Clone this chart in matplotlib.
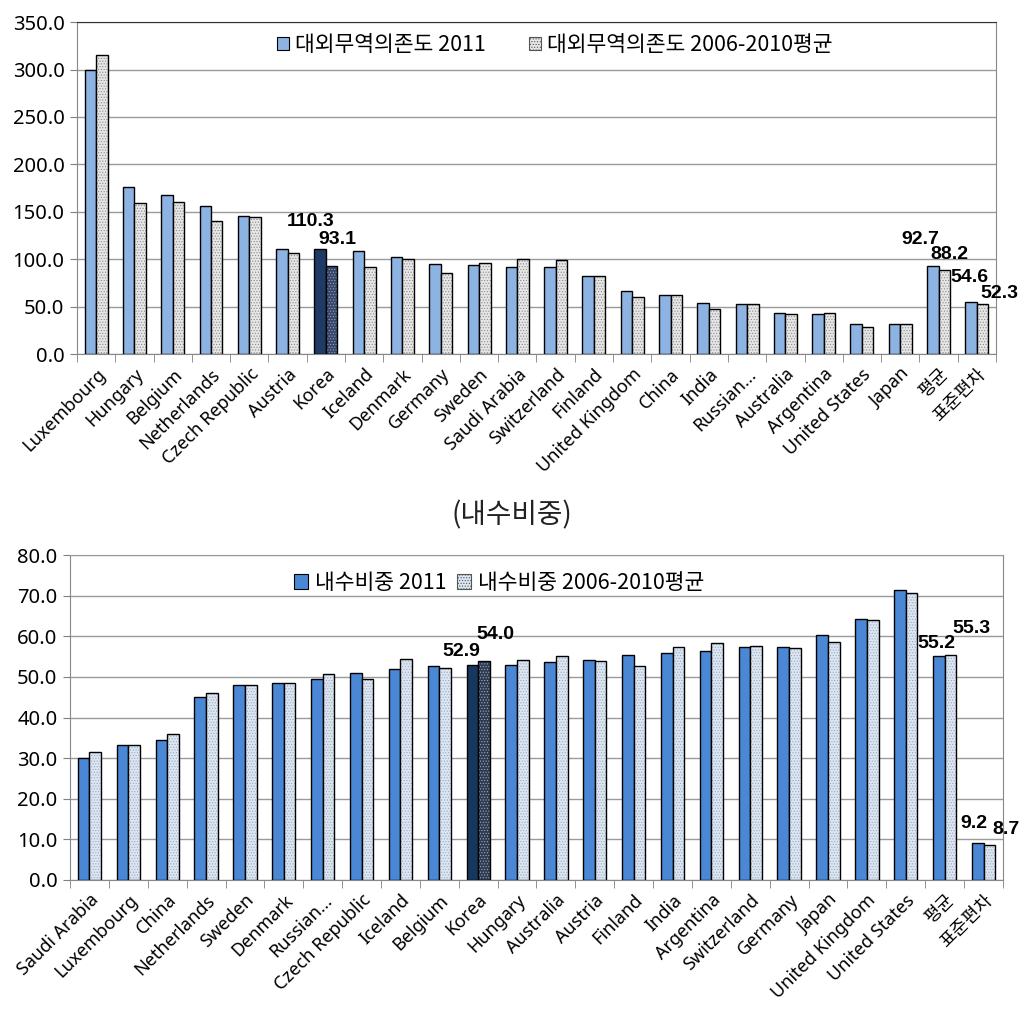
import numpy as np
import matplotlib
matplotlib.use("Agg")
import matplotlib.pyplot as plt

plt.rcParams['font.family'] = ['Noto Sans', 'Noto Sans CJK KR', 'DejaVu Sans']
plt.rcParams['hatch.linewidth'] = 0.5

# ---- 데이터 ----
# 대외무역의존도
top_cats = ['Luxembourg', 'Hungary', 'Belgium', 'Netherlands', 'Czech Republic', 'Austria',
            'Korea', 'Iceland', 'Denmark', 'Germany', 'Sweden', 'Saudi Arabia', 'Switzerland',
            'Finland', 'United Kingdom', 'China', 'India', 'Russian...', 'Australia',
            'Argentina', 'United States', 'Japan', '평균', '표준편차']
top_2011 = [300.0, 176.0, 168.0, 156.5, 145.5, 111.0, 110.3, 108.5, 102.5, 95.0, 94.0, 92.0,
            91.5, 82.6, 66.5, 62.0, 54.0, 52.7, 43.0, 41.9, 32.0, 32.0, 92.7, 54.6]
top_avg = [315.0, 159.0, 160.0, 140.5, 144.0, 107.0, 93.1, 91.5, 100.0, 85.0, 96.0, 100.0,
           98.8, 82.6, 60.4, 62.6, 47.8, 52.7, 41.9, 43.0, 29.0, 32.0, 88.2, 52.3]
top_labels = ['대외무역의존도 2011', '대외무역의존도 2006-2010평균']

# 내수비중
bot_cats = ['Saudi Arabia', 'Luxembourg', 'China', 'Netherlands', 'Sweden', 'Denmark',
            'Russian...', 'Czech Republic', 'Iceland', 'Belgium', 'Korea', 'Hungary',
            'Australia', 'Austria', 'Finland', 'India', 'Argentina', 'Switzerland', 'Germany',
            'Japan', 'United Kingdom', 'United States', '평균', '표준편차']
bot_2011 = [30.0, 33.2, 34.4, 45.0, 47.9, 48.5, 49.4, 50.9, 52.0, 52.6, 52.9, 53.0,
            53.6, 54.2, 55.4, 56.0, 56.3, 57.4, 57.4, 60.3, 64.2, 71.5, 55.2, 9.2]
bot_avg = [31.5, 33.2, 35.9, 46.1, 47.9, 48.5, 50.6, 49.4, 54.3, 52.3, 54.0, 54.2,
           55.1, 53.9, 52.7, 57.4, 58.3, 57.7, 57.2, 58.6, 63.9, 70.7, 55.3, 8.7]
bot_labels = ['내수비중 2011', '내수비중 2006-2010평균']

W = 0.3


def draw_chart(ax, cats, v1, v2, c1, c1k, f2, f2k, d2, d2k, ymax, ystep, top_spine):
    x = np.arange(len(cats))
    col1 = [c1k if c == 'Korea' else c1 for c in cats]
    col2 = [f2k if c == 'Korea' else f2 for c in cats]
    dot2 = [d2k if c == 'Korea' else d2 for c in cats]
    ax.bar(x - W / 2, v1, W, color=col1, edgecolor='black', linewidth=1.0, zorder=3)
    b2 = ax.bar(x + W / 2, v2, W, color=col2, linewidth=0, zorder=3)
    for p, dc in zip(b2, dot2):
        p.set_hatch('......')
        p.set_edgecolor(dc)
    ax.bar(x + W / 2, v2, W, fill=False, edgecolor='black', linewidth=1.0, zorder=4)

    ax.set_xlim(-0.5, len(cats) - 0.5)
    ax.set_ylim(0, ymax)
    ax.set_yticks(np.arange(0, ymax + 0.1, ystep))
    ax.set_yticklabels(['%.1f' % v for v in np.arange(0, ymax + 0.1, ystep)], fontsize=14.5)
    ax.yaxis.grid(True, color='#9a9a9a', linewidth=1.0, zorder=0)
    ax.set_axisbelow(True)
    ax.set_xticks(x)
    ax.set_xticklabels(cats, rotation=45, ha='right', rotation_mode='anchor', fontsize=13)
    ax.set_xticks(np.arange(-0.5, len(cats)), minor=True)
    ax.tick_params(axis='x', which='major', length=0, pad=8)
    ax.tick_params(axis='x', which='minor', length=6, color='#808080')
    ax.tick_params(axis='y', length=5, color='#808080', pad=4)
    for s in ['left', 'right', 'bottom']:
        ax.spines[s].set_color('#888888')
    ax.spines['top'].set_color(top_spine)
    return x


def value_labels(ax, x, cats, v1, v2, offsets):
    for c, (o1, o2) in offsets.items():
        i = cats.index(c)
        ax.annotate('%.1f' % v1[i], (x[i] - W / 2, v1[i]), xytext=o1, textcoords='offset points',
                    ha='center', va='bottom', fontsize=14, fontweight='bold',
                    family='Liberation Sans', zorder=6)
        ax.annotate('%.1f' % v2[i], (x[i] + W / 2, v2[i]), xytext=o2, textcoords='offset points',
                    ha='center', va='bottom', fontsize=14, fontweight='bold',
                    family='Liberation Sans', zorder=6)


fig = plt.figure(figsize=(10.25, 10.13), dpi=100)

# 위: 대외무역의존도
ax1 = fig.add_axes([0.0751, 0.6505, 0.8966, 0.3277])
x1 = draw_chart(ax1, top_cats, top_2011, top_avg,
                '#8DB3E2', '#1F3A64', '#E6E6E6', '#34456A', '#8C8C8C', '#9AA4BA',
                350, 50, '#333333')
value_labels(ax1, x1, top_cats, top_2011, top_avg,
             {'Korea': ((-7, 14), (4, 13)), '평균': ((-9, 13), (4, 5)),
              '표준편차': ((-1, 12), (12, 2))})
h1 = [plt.Rectangle((0, 0), 1, 1, facecolor='#8DB3E2', edgecolor='black', linewidth=0.8),
      plt.Rectangle((0, 0), 1, 1, facecolor='#E6E6E6', edgecolor='#555555', hatch='......',
                    linewidth=0.8)]
ax1.legend(h1, top_labels, loc='center', bbox_to_anchor=(0.52, 0.931), ncol=2, frameon=False,
           prop={'family': 'Noto Sans CJK KR', 'size': 15.5}, handlelength=0.55,
           handleheight=0.55, handletextpad=0.3, columnspacing=2.0)

fig.text(0.4995, 0.4916, '(내수비중)', ha='center', va='center', fontsize=20,
         family='Noto Sans CJK KR', color='#222222')

# 아래: 내수비중
ax2 = fig.add_axes([0.0683, 0.1313, 0.9102, 0.3208])
x2 = draw_chart(ax2, bot_cats, bot_2011, bot_avg,
                '#4A88D6', '#17375E', '#DCE6F2', '#2C3A52', '#9AAAC0', '#A0AABB',
                80, 10, '#999999')
value_labels(ax2, x2, bot_cats, bot_2011, bot_avg,
             {'Korea': ((-8, 4), (8, 13)), '평균': ((-2, 3), (15, 13)),
              '표준편차': ((-3, 8), (12, 5))})
h2 = [plt.Rectangle((0, 0), 1, 1, facecolor='#4A88D6', edgecolor='black', linewidth=0.8),
      plt.Rectangle((0, 0), 1, 1, facecolor='#DCE6F2', edgecolor='#555555', hatch='......',
                    linewidth=0.8)]
ax2.legend(h2, bot_labels, loc='center', bbox_to_anchor=(0.46, 0.914), ncol=2, frameon=False,
           prop={'family': 'Noto Sans CJK KR', 'size': 15.5}, handlelength=0.65,
           handleheight=0.65, handletextpad=0.3, columnspacing=0.5)

fig.savefig('out.png', dpi=100)
